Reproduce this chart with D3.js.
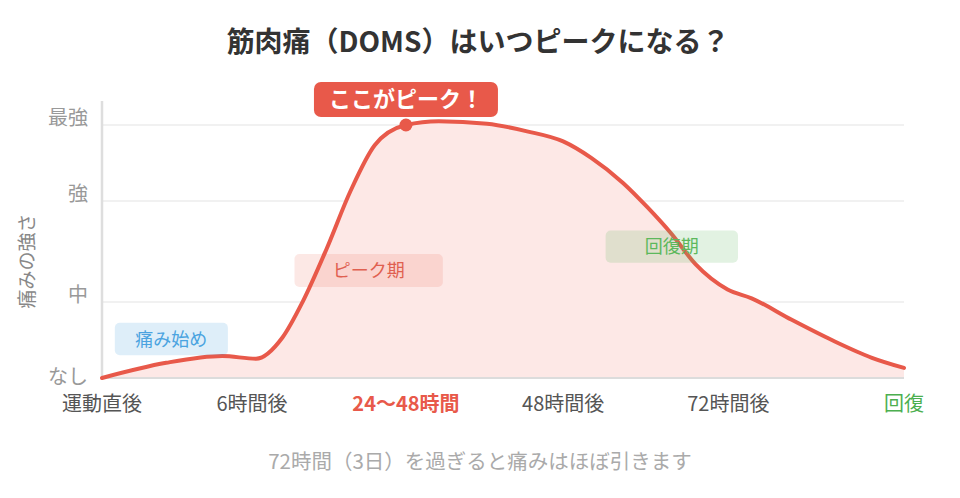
<!DOCTYPE html>
<html><head><meta charset="utf-8">
<script src="https://cdn.jsdelivr.net/npm/d3@7"></script>
<style>
body{margin:0;background:#fff}
svg{display:block;font-family:"Noto Sans CJK JP","Noto Sans",sans-serif}
</style></head>
<body><svg id="c" width="960" height="498"></svg>
<script>
// ---- data ----
const title = "筋肉痛（DOMS）はいつピークになる？";
const yTitle = "痛みの強さ";
const note = "72時間（3日）を過ぎると痛みはほぼ引きます";
const xLabels = ["運動直後","6時間後","24〜48時間","48時間後","72時間後","回復"];
const xLabelPos = [0, 1.87, 3.79, 5.75, 7.81, 10];
const yTickLabels = ["なし","中","強","最強"];
const yTickValues = [0, 3, 7, 10];
// curve: progress position (0..10) and pain intensity (0..10)
const curveX = [0,0.8,1.5,1.92,2.25,2.5,2.8,3.1,3.4,3.79,4.2,4.8,5.3,5.75,6.1,6.5,6.8,7.1,7.4,7.8,8.1,8.6,9.1,9.6,10];
const curveY = [0,0.6,0.87,0.76,1.6,3.0,5.1,7.4,9.2,10,10.15,10.05,9.75,9.35,8.7,7.7,6.75,5.7,4.5,3.5,3.15,2.3,1.5,0.8,0.4];
const phases = ["痛み始め","ピーク期","回復期"];
const phaseX0 = [0.16, 2.4, 6.28];
const phaseX1 = [1.57, 4.25, 7.93];
const phaseYTop = [2.18, 4.9, 5.83];
const phaseYBot = [0.9, 3.6, 4.56];
const peakLabel = "ここがピーク！";
const peakIndex = 9;

// ---- drawing ----
const svg = d3.select("#c");
const x = d3.scaleLinear().domain([0,10]).range([102,904]);
const y = d3.scaleLinear().domain([0,10]).range([378,125]);

svg.append("text").attr("x",478).attr("y",42).attr("dy","0.36em").attr("text-anchor","middle")
  .attr("font-size",28).attr("font-weight","bold").attr("fill","#333").text(title);

// grid lines
svg.append("g").selectAll("line").data(yTickValues.filter(v=>v>0)).join("line")
  .attr("x1",x(0)).attr("x2",x(10)).attr("y1",d=>y(d)).attr("y2",d=>y(d))
  .attr("stroke","#ececec").attr("stroke-width",1.5);

// y axis line
svg.append("line").attr("x1",x(0)).attr("x2",x(0)).attr("y1",y(10.95)).attr("y2",y(0))
  .attr("stroke","#dedede").attr("stroke-width",2.5);

// area + line
const pts = curveX.map((d,i)=>[d,curveY[i]]);
const area = d3.area().x(d=>x(d[0])).y0(y(0)).y1(d=>y(d[1])).curve(d3.curveMonotoneX);
const line = d3.line().x(d=>x(d[0])).y(d=>y(d[1])).curve(d3.curveMonotoneX);
svg.append("path").datum(pts).attr("d",area).attr("fill","#fde8e6");

// baseline
svg.append("line").attr("x1",x(0)).attr("x2",x(10)).attr("y1",y(0)).attr("y2",y(0))
  .attr("stroke","#dcdcdc").attr("stroke-width",2);

svg.append("path").datum(pts).attr("d",line).attr("fill","none")
  .attr("stroke","#e8594a").attr("stroke-width",4).attr("stroke-linecap","round");

// phase boxes
const phaseFill = ["rgba(74,163,224,0.18)","rgba(232,89,74,0.14)","rgba(92,184,92,0.18)"];
const phaseText = ["#4aa3e0","#e06050","#5cb85c"];
const pg = svg.append("g").selectAll("g").data(phases).join("g");
pg.append("rect").attr("x",(d,i)=>x(phaseX0[i])).attr("y",(d,i)=>y(phaseYTop[i]))
  .attr("width",(d,i)=>x(phaseX1[i])-x(phaseX0[i])).attr("height",(d,i)=>y(phaseYBot[i])-y(phaseYTop[i]))
  .attr("rx",5).attr("fill",(d,i)=>phaseFill[i]);
pg.append("text").attr("x",(d,i)=>(x(phaseX0[i])+x(phaseX1[i]))/2)
  .attr("y",(d,i)=>(y(phaseYTop[i])+y(phaseYBot[i]))/2).attr("dy","0.36em")
  .attr("text-anchor","middle").attr("font-size",18).attr("fill",(d,i)=>phaseText[i]).text(d=>d);

// peak marker
const px = x(curveX[peakIndex]), py = y(curveY[peakIndex]);
svg.append("rect").attr("x",px-92).attr("y",py-43).attr("width",184).attr("height",35)
  .attr("rx",7).attr("fill","#e8594a");
svg.append("text").attr("x",px).attr("y",py-25.5).attr("dy","0.36em").attr("text-anchor","middle")
  .attr("font-size",22).attr("font-weight","bold").attr("fill","#fff").text(peakLabel);
svg.append("circle").attr("cx",px).attr("cy",py).attr("r",6.5).attr("fill","#e8594a");

// y tick labels
svg.append("g").selectAll("text").data(yTickValues).join("text")
  .attr("x",88).attr("y",d=>y(d)-(d>0?7:1)).attr("dy","0.36em").attr("text-anchor","end")
  .attr("font-size",20).attr("fill","#999").text((d,i)=>yTickLabels[i]);

// y title
svg.append("text").attr("transform","translate(27,261) rotate(-90)").attr("text-anchor","middle")
  .attr("dy","0.36em").attr("font-size",19).attr("fill","#888").text(yTitle);

// x labels
const xColor = (i)=> i===2 ? "#e8594a" : (i===5 ? "#4caf50" : "#555");
svg.append("g").selectAll("text").data(xLabels).join("text")
  .attr("x",(d,i)=>x(xLabelPos[i])).attr("y",404).attr("dy","0.36em").attr("text-anchor","middle")
  .attr("font-size",20).attr("font-weight",(d,i)=>i===2?"bold":"normal")
  .attr("fill",(d,i)=>xColor(i)).text(d=>d);

// note
svg.append("text").attr("x",480).attr("y",462).attr("dy","0.36em").attr("text-anchor","middle")
  .attr("font-size",20.5).attr("fill","#aaa").text(note);
</script></body></html>
